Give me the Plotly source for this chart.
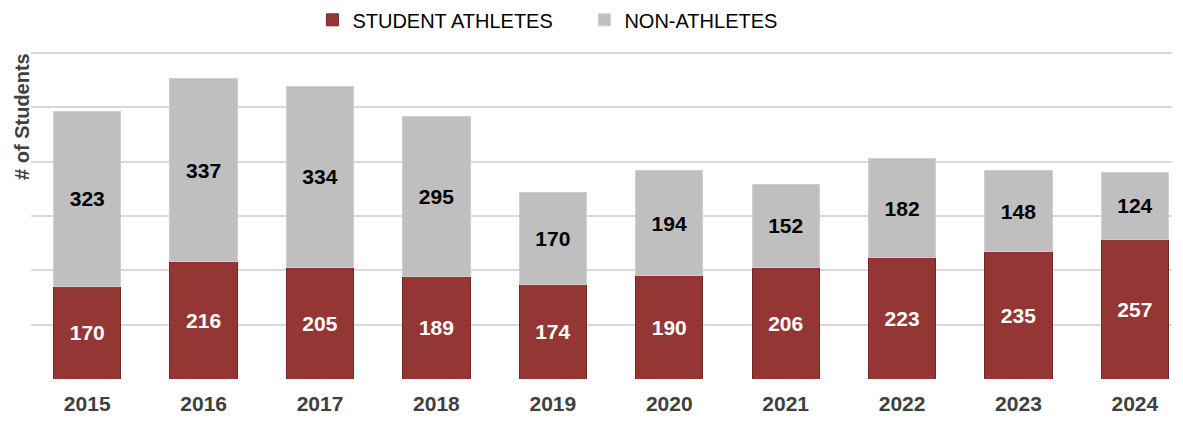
import plotly.graph_objects as go

years = ["2015", "2016", "2017", "2018", "2019", "2020", "2021", "2022", "2023", "2024"]
athletes = [170, 216, 205, 189, 174, 190, 206, 223, 235, 257]
non_athletes = [323, 337, 334, 295, 170, 194, 152, 182, 148, 124]

FONT = "Arial, 'Liberation Sans', sans-serif"

fig = go.Figure()
fig.add_trace(go.Bar(
    x=years, y=athletes, name="STUDENT ATHLETES",
    marker=dict(color="#943634", line=dict(color="#732827", width=1)),
    text=athletes, textposition="inside", insidetextanchor="middle",
    textfont=dict(family=FONT, size=21, color="white", weight="bold"),
    width=0.578,
))
fig.add_trace(go.Bar(
    x=years, y=non_athletes, name="NON-ATHLETES",
    marker=dict(color="#BFBFBF", line=dict(color="#CFCFCF", width=1)),
    text=non_athletes, textposition="inside", insidetextanchor="middle",
    textfont=dict(family=FONT, size=21, color="black", weight="bold"),
    width=0.578,
))

fig.update_layout(
    barmode="stack",
    width=1167, height=411,
    margin=dict(l=23, r=3, t=43, b=40, autoexpand=False),
    plot_bgcolor="white", paper_bgcolor="white",
    font=dict(family=FONT),
    showlegend=True,
    legend=dict(
        orientation="h", x=0.485, xanchor="center", y=1.095, yanchor="middle",
        font=dict(family=FONT, size=20, color="black"),
        traceorder="normal", entrywidth=227, itemwidth=30,
    ),
    xaxis=dict(
        type="category", range=[-0.483, 9.319],
        showgrid=False, showline=False, ticks="", ticklabelstandoff=10,
        tickfont=dict(family=FONT, size=21, color="#404040", weight="bold"),
    ),
    yaxis=dict(
        range=[0, 603.7], dtick=100, showticklabels=False,
        gridcolor="#D9D9D9", gridwidth=2, zeroline=False, showline=False,
    ),
)
fig.add_annotation(
    text="# of Students", textangle=-90, xref="paper", yref="paper",
    x=-0.0193, y=0.802, xanchor="left", yanchor="middle",
    showarrow=False, font=dict(family=FONT, size=20, color="#404040", weight="bold"),
)

fig.write_html("out.html")
